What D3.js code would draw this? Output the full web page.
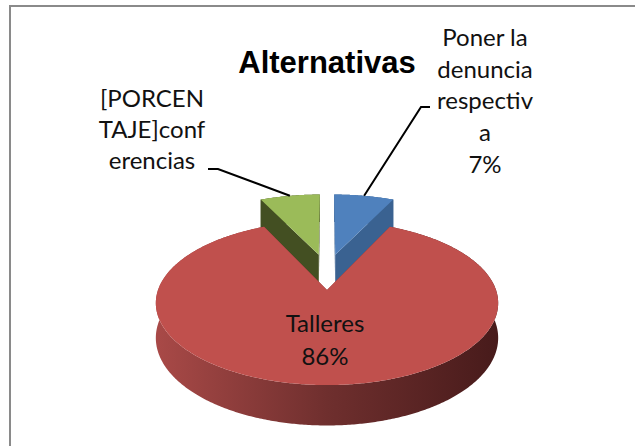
<!DOCTYPE html>
<html>
<head>
<meta charset="utf-8">
<script src="https://cdn.jsdelivr.net/npm/d3@7"></script>
<style>
  body { margin: 0; background: #fff; }
  svg { display: block; }
</style>
</head>
<body>
<div id="my_dataviz"></div>
<script>

// data
var categories = ["Poner la denuncia respectiva", "Talleres", "conferencias"];
var values = [7, 86, 7];
var topColors = ["#4f81bd", "#c0504d", "#9bbb59"];
var sideColors = ["#3a6291", "#7a3130", "#434f22"];
// label texts as Excel wrapped them
var labelLines = [
  ["Poner la", "denuncia", "respectiv", "a"],
  ["Talleres"],
  ["[PORCEN", "TAJE]conf", "erencias"]
];
var showPercent = [true, true, false];

var width = 635, height = 446;

var svg = d3.select("#my_dataviz")
  .append("svg")
  .attr("width", width)
  .attr("height", height);

// chart frame (only the left and top edges are inside the picture)
svg.append("rect")
  .attr("x", 10).attr("y", 6)
  .attr("width", 660).attr("height", 470)
  .attr("fill", "none")
  .attr("stroke", "#8a8a8a")
  .attr("stroke-width", 2);

// title
svg.append("text")
  .attr("x", 327).attr("y", 73)
  .attr("text-anchor", "middle")
  .style("font-family", "'Liberation Sans', Arial, sans-serif")
  .style("font-weight", "bold")
  .style("font-size", "31px")
  .text("Alternativas");

// 3d pie settings
var cx = 327, cy = 290, R = 169, tilt = 0.473, persp = 0.159, depth = 34, explode = 0.24;

// project a point in the pie plane (X right, Z toward viewer) and height h
function project(X, Z, h) {
  var f = 1 / (1 - persp * Z / R);
  return [cx + X * f, cy + (Z * tilt + h) * f];
}

var arcs = d3.pie().sort(null).value(function (d) { return d; })(values);
var total = d3.sum(values);

arcs.forEach(function (d, i) {
  var mid = (d.startAngle + d.endAngle) / 2;
  d.index = i;
  d.mid = mid;
  // slice centre after exploding (big slice lands on the origin)
  d.sx = explode * R * Math.sin(mid);
  d.sz = -explode * R - explode * R * Math.cos(mid);
});

function outerPoint(d, a, h) {
  return project(d.sx + R * Math.sin(a), d.sz - R * Math.cos(a), h);
}
function arcPoints(d, h) {
  var n = Math.max(4, Math.ceil((d.endAngle - d.startAngle) / 0.01));
  return d3.range(n + 1).map(function (k) {
    var a = d.startAngle + (d.endAngle - d.startAngle) * k / n;
    return outerPoint(d, a, h);
  });
}

// gradient for the big slice's outer wall
var grad = svg.append("defs").append("linearGradient")
  .attr("id", "sideGrad")
  .attr("gradientUnits", "userSpaceOnUse")
  .attr("x1", cx - R).attr("x2", cx + R)
  .attr("y1", 0).attr("y2", 0);
grad.append("stop").attr("offset", "0%").attr("stop-color", "#a84947");
grad.append("stop").attr("offset", "50%").attr("stop-color", "#6f2f2e");
grad.append("stop").attr("offset", "100%").attr("stop-color", "#481b1b");

var line = d3.line();
var pieG = svg.append("g");

// draw back slices first
var order = arcs.slice().sort(function (a, b) { return a.sz - b.sz; });

order.forEach(function (d) {
  var g = pieG.append("g");
  var apexTop = project(d.sx, d.sz, 0);
  var apexBot = project(d.sx, d.sz, depth);
  var top = arcPoints(d, 0);
  var bot = arcPoints(d, depth);

  // outer wall
  g.append("path")
    .attr("d", line(top.concat(bot.slice().reverse())) + "Z")
    .attr("fill", d.index === 1 ? "url(#sideGrad)" : sideColors[d.index]);

  // radial cut faces
  [d.startAngle, d.endAngle].forEach(function (a) {
    var pts = [apexTop, outerPoint(d, a, 0), outerPoint(d, a, depth), apexBot];
    g.append("path")
      .attr("d", line(pts) + "Z")
      .attr("fill", sideColors[d.index]);
  });

  // top face
  g.append("path")
    .attr("d", line([apexTop].concat(top)) + "Z")
    .attr("fill", topColors[d.index]);
});

// data labels: text position and leader stub (text end, bend point)
var labelPos = [
  { x: 485, y: 46, dy: 31.7, stub: [[430, 107], [421, 107]] },
  { x: 325, y: 332, dy: 33 },
  { x: 152, y: 107, dy: 31, stub: [[208, 169], [218, 169]] }
];

arcs.forEach(function (d, i) {
  var p = labelPos[i];
  var lines = labelLines[i].slice();
  if (showPercent[i]) lines.push(Math.round(values[i] / total * 100) + "%");

  if (p.stub) {
    var end = outerPoint(d, d.mid, 0);
    svg.append("path")
      .attr("d", line([p.stub[0], p.stub[1], end]))
      .attr("fill", "none")
      .attr("stroke", "#000")
      .attr("stroke-width", 2);
  }

  var t = svg.append("text")
    .attr("text-anchor", "middle")
    .style("font-family", "Lato, 'Open Sans', sans-serif")
    .style("font-size", "24px")
    .attr("fill", "#111");
  lines.forEach(function (s, k) {
    t.append("tspan")
      .attr("x", p.x)
      .attr("y", p.y + k * p.dy)
      .text(s);
  });
});

</script>
</body>
</html>
